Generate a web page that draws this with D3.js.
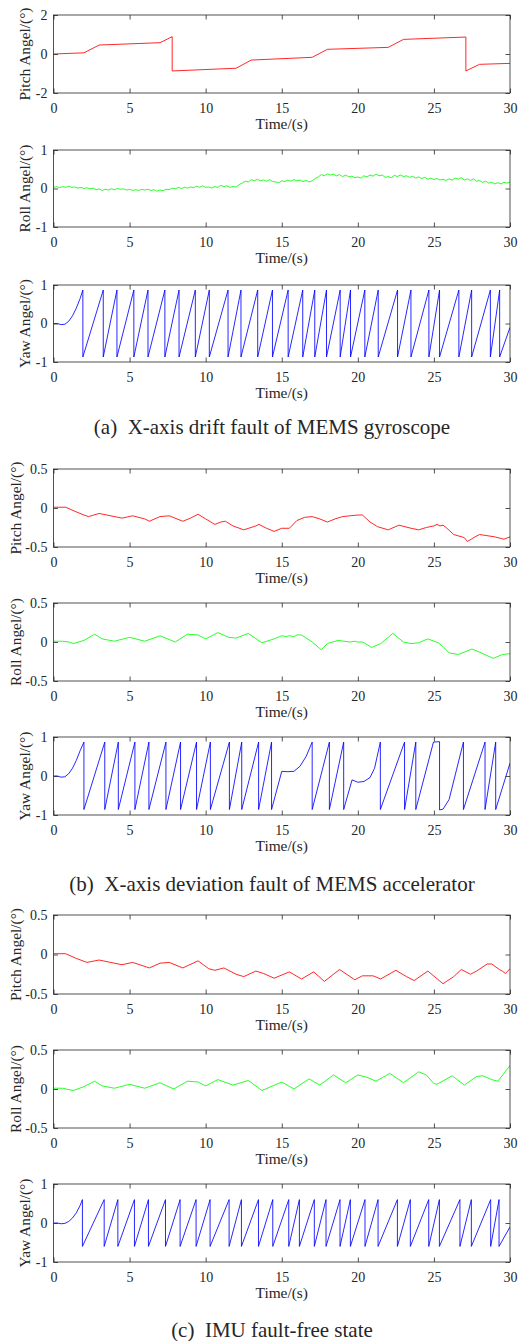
<!DOCTYPE html>
<html><head><meta charset="utf-8">
<script src="https://cdn.jsdelivr.net/npm/d3@7"></script>
<style>
body{margin:0;background:#fff}
svg{display:block}
text{font-family:"Liberation Serif","Times New Roman",serif;fill:#262626}
</style>
</head><body>
<svg id="chart" width="529" height="1341"></svg>
<script>
// ---------------- DATA ----------------
const timeTicks = [0, 5, 10, 15, 20, 25, 30];
const yTicksPitchA = [-2, 0, 2];
const yTicksUnit = [-1, 0, 1];
const yTicksHalf = [-0.5, 0, 0.5];

const captions = [
  "(a)  X-axis drift fault of MEMS gyroscope",
  "(b)  X-axis deviation fault of MEMS accelerator",
  "(c)  IMU fault-free state"
];
const yLabels = ["Pitch Angel/(°)", "Roll Angel/(°)", "Yaw Angel/(°)"];

// (a) pitch [time, value]
const pitchA = [[0,0],[2,0.06],[3,0.46],[7,0.58],[7.8,0.89],[7.8,-0.87],[12,-0.73],[13,-0.31],[17,-0.17],[18,0.24],[22,0.34],[23,0.75],[27.1,0.87],[27.1,-0.87],[28,-0.53],[30,-0.48]];

// (a) roll, sampled every 0.2 s
const rollAStep = 0.2;
const rollAValues = [
 0.03,0.05,0.02,0.05,0.03,0.06,0.03,0.04,0.01,0.03,
 0.00,0.02,-0.01,0.01,-0.03,-0.01,-0.05,-0.02,-0.04,-0.01,
 -0.03,0.00,-0.02,-0.01,-0.04,-0.02,-0.05,-0.03,-0.05,-0.02,
 -0.04,-0.02,-0.05,-0.03,-0.07,-0.04,-0.06,-0.02,-0.03,0.01,
 -0.01,0.03,0.00,0.03,0.01,0.04,0.02,0.06,0.03,0.07,
 0.03,0.04,0.01,0.05,0.03,0.08,0.05,0.07,0.03,0.05,
 0.04,0.10,0.14,0.19,0.17,0.23,0.20,0.24,0.20,0.22,
 0.19,0.23,0.18,0.17,0.15,0.20,0.18,0.22,0.19,0.23,
 0.20,0.22,0.18,0.21,0.17,0.20,0.26,0.30,0.36,0.33,
 0.38,0.35,0.37,0.33,0.36,0.31,0.35,0.30,0.32,0.28,
 0.30,0.27,0.33,0.30,0.35,0.32,0.37,0.33,0.35,0.29,
 0.31,0.28,0.34,0.31,0.35,0.31,0.33,0.29,0.32,0.27,
 0.30,0.26,0.29,0.24,0.27,0.23,0.26,0.22,0.24,0.21,
 0.25,0.22,0.27,0.24,0.28,0.22,0.25,0.21,0.25,0.19,
 0.21,0.16,0.19,0.14,0.16,0.12,0.15,0.12,0.16,0.14,
 0.17
];

// (a) yaw: start-up curve, wrap times, wrap peak / trough, end value
const yawAStart = [[0,0],[0.25,0],[0.5,-0.03],[0.75,-0.02],[1.0,0.06],[1.25,0.2],[1.5,0.4],[1.75,0.65]];
const yawAWraps = [1.93,3.27,4.17,5.28,6.21,7.32,8.25,9.32,10.24,11.47,12.32,13.42,14.39,15.42,16.38,17.17,17.94,18.84,19.52,20.46,21.34,22.61,23.49,24.67,25.37,26.64,27.48,28.71,29.32];
const yawAPeak = 0.87, yawATrough = -0.87;
const yawAEnd = [30,-0.1];

// (b) pitch
const pitchB = [[0,0.01],[0.8,0.01],[1.5,-0.05],[2,-0.09],[2.3,-0.11],[3,-0.07],[3.5,-0.09],[4.5,-0.13],[5.2,-0.10],[6,-0.14],[6.3,-0.17],[7,-0.11],[7.6,-0.10],[8.5,-0.17],[9,-0.13],[9.5,-0.08],[10,-0.14],[10.6,-0.21],[11,-0.18],[11.3,-0.17],[11.8,-0.23],[12.5,-0.28],[13.3,-0.23],[13.5,-0.21],[14,-0.26],[14.5,-0.30],[15,-0.26],[15.5,-0.26],[16,-0.16],[16.5,-0.12],[17,-0.11],[17.5,-0.14],[18,-0.18],[18.5,-0.14],[19,-0.11],[19.5,-0.10],[20,-0.09],[20.3,-0.09],[20.8,-0.18],[21.3,-0.24],[22,-0.28],[22.7,-0.22],[23.5,-0.26],[24,-0.28],[24.5,-0.25],[25,-0.23],[25.2,-0.21],[25.4,-0.23],[25.6,-0.22],[25.8,-0.25],[26.3,-0.34],[27,-0.38],[27.2,-0.43],[27.7,-0.37],[28,-0.34],[29,-0.37],[29.6,-0.40],[30,-0.37]];

// (b) roll
const rollB = [[0,0.01],[0.6,0.01],[1,0],[1.3,-0.02],[2,0.02],[2.7,0.10],[3.2,0.04],[4,0.01],[5,0.06],[6,0.01],[7,0.08],[8,0],[8.8,0.10],[9.5,0.09],[10,0.04],[10.8,0.12],[11.5,0.06],[12,0.05],[12.8,0.11],[13.7,-0.01],[14.5,0.04],[15,0.08],[15.3,0.07],[15.5,0.08],[15.8,0.07],[16,0.09],[16.3,0.09],[17,0],[17.6,-0.10],[18,-0.02],[18.7,0.02],[19.5,0],[19.8,0.01],[20,0],[20.3,0.0],[20.5,-0.02],[20.9,-0.07],[21.5,-0.02],[22.3,0.11],[23,0],[23.5,-0.02],[24,-0.01],[24.6,0.04],[25.3,-0.01],[25.6,-0.06],[26,-0.14],[26.6,-0.16],[27,-0.13],[27.5,-0.09],[28,-0.13],[28.9,-0.21],[29.5,-0.16],[30,-0.15]];

// (b) yaw
const yawB = [[0,0],[0.25,0],[0.5,-0.03],[0.75,-0.02],[1,0.06],[1.25,0.2],[1.5,0.4],[1.75,0.65],[2.0,0.87],[2.0,-0.86],[3.37,0.87],[3.37,-0.86],[4.26,0.87],[4.26,-0.86],[5.35,0.87],[5.35,-0.86],[6.27,0.87],[6.27,-0.86],[7.39,0.87],[7.39,-0.86],[8.35,0.87],[8.35,-0.86],[9.40,0.87],[9.40,-0.86],[10.31,0.87],[10.31,-0.86],[11.56,0.87],[11.56,-0.86],[12.37,0.87],[12.37,-0.86],[13.48,0.87],[13.48,-0.86],[14.33,0.87],[14.33,-0.86],[15.0,0.12],[15.4,0.11],[15.8,0.12],[16.2,0.25],[16.6,0.5],[17.0,0.87],[17.0,-0.86],[18.13,0.87],[18.13,-0.86],[19.07,0.87],[19.07,-0.86],[19.62,-0.1],[20.0,-0.16],[20.4,-0.14],[20.8,-0.04],[21.1,0.2],[21.48,0.87],[21.48,-0.86],[23.07,0.87],[23.07,-0.86],[23.81,0.87],[23.81,-0.86],[24.97,0.87],[25.37,0.88],[25.37,-0.87],[25.6,-0.85],[26.0,-0.6],[26.94,0.87],[26.94,-0.86],[28.36,0.87],[28.36,-0.86],[29.06,0.87],[29.06,-0.86],[30,0.33]];

// (c) pitch
const pitchC = [[0,0.01],[0.8,0.01],[1.5,-0.05],[2.2,-0.10],[3,-0.07],[4.5,-0.13],[5.2,-0.10],[6.3,-0.17],[7,-0.11],[7.6,-0.10],[8.5,-0.17],[9.5,-0.08],[10.2,-0.18],[10.6,-0.20],[11.2,-0.17],[12,-0.25],[12.5,-0.28],[13.3,-0.21],[13.8,-0.24],[14.5,-0.30],[15.5,-0.22],[16.3,-0.31],[17.1,-0.22],[17.8,-0.34],[18.8,-0.19],[19.8,-0.32],[20.3,-0.27],[21,-0.27],[21.5,-0.31],[22.5,-0.20],[23.2,-0.28],[23.7,-0.33],[24.6,-0.21],[25.6,-0.37],[26.3,-0.28],[26.8,-0.19],[27.4,-0.25],[27.8,-0.21],[28.5,-0.12],[28.8,-0.12],[29.3,-0.19],[29.5,-0.21],[29.7,-0.24],[30,-0.18]];

// (c) roll
const rollC = [[0,0.01],[0.6,0.01],[1.3,-0.02],[2,0.03],[2.7,0.10],[3.2,0.04],[4,0.01],[5,0.06],[6,0.01],[7,0.08],[7.9,0],[8.8,0.10],[9.5,0.09],[10,0.04],[10.8,0.12],[11.8,0.05],[12.8,0.11],[13.7,-0.02],[15,0.09],[15.8,0],[16.8,0.13],[17.5,0.05],[18.4,0.18],[19.2,0.08],[20,0.18],[20.6,0.15],[21.2,0.10],[22.1,0.20],[23,0.08],[24,0.22],[24.5,0.18],[25,0.07],[25.2,0.06],[26.2,0.17],[27,0.05],[27.8,0.16],[28.2,0.17],[28.8,0.12],[29.2,0.10],[29.6,0.20],[30,0.30]];

// (c) yaw
const yawCStart = [[0,0],[0.25,0],[0.5,-0.02],[0.75,-0.01],[1.0,0.04],[1.25,0.13],[1.5,0.26],[1.75,0.45]];
const yawCWraps = [1.90,3.33,4.23,5.32,6.24,7.36,8.32,9.37,10.29,11.54,12.35,13.47,14.41,15.46,16.16,17.14,17.91,18.83,19.51,20.47,21.33,22.60,23.45,24.66,25.36,26.71,27.46,28.73,29.28];
const yawCPeak = 0.6, yawCTrough = -0.6;
const yawCEnd = [30,-0.1];

// ---------------- BUILD SERIES ----------------
const rollA = rollAValues.map((v, i) => [i * rollAStep, v]);
function wrapSeries(start, wraps, peak, trough, end) {
  const pts = start.slice();
  wraps.forEach(t => { pts.push([t, peak]); pts.push([t, trough]); });
  pts.push(end);
  return pts;
}
const yawA = wrapSeries(yawAStart, yawAWraps, yawAPeak, yawATrough, yawAEnd);
const yawC = wrapSeries(yawCStart, yawCWraps, yawCPeak, yawCTrough, yawCEnd);

// ---------------- LAYOUT ----------------
const X0 = 53.5, X1 = 510;
const RED = "#ff0000", GREEN = "#00ff00", BLUE = "#0000ff";
const AX = "#262626";
const panels = [
  {top:15,   bottom:93,   ticks:yTicksPitchA, label:yLabels[0], color:RED,   data:pitchA, lx:24.5},
  {top:150,  bottom:227,  ticks:yTicksUnit,   label:yLabels[1], color:GREEN, data:rollA,  lx:24.5},
  {top:285,  bottom:362,  ticks:yTicksUnit,   label:yLabels[2], color:BLUE,  data:yawA,   lx:24.5},
  {top:469,  bottom:547,  ticks:yTicksHalf,   label:yLabels[0], color:RED,   data:pitchB, lx:15.5},
  {top:603,  bottom:681,  ticks:yTicksHalf,   label:yLabels[1], color:GREEN, data:rollB,  lx:15.5},
  {top:737,  bottom:815,  ticks:yTicksUnit,   label:yLabels[2], color:BLUE,  data:yawB,   lx:24.5},
  {top:915,  bottom:994,  ticks:yTicksHalf,   label:yLabels[0], color:RED,   data:pitchC, lx:15.5},
  {top:1050, bottom:1128, ticks:yTicksHalf,   label:yLabels[1], color:GREEN, data:rollC,  lx:15.5},
  {top:1184, bottom:1262, ticks:yTicksUnit,   label:yLabels[2], color:BLUE,  data:yawC,   lx:24.5}
];
const captionY = [434, 891, 1337];

const svg = d3.select("#chart");
const x = d3.scaleLinear().domain([0, 30]).range([X0, X1]);
const TICK = 4.5;

function styleAxis(g) {
  g.select(".domain").remove();
  g.attr("font-family", null).attr("font-size", null);
  g.selectAll(".tick line").attr("stroke", AX).attr("stroke-width", 0.8);
  g.selectAll(".tick text").attr("fill", AX).style("font-size", "14px");
}

panels.forEach((p, i) => {
  const y = d3.scaleLinear().domain([p.ticks[0], p.ticks[p.ticks.length - 1]]).range([p.bottom, p.top]);
  const g = svg.append("g");
  const clipId = "clip" + i;
  g.append("clipPath").attr("id", clipId).append("rect")
    .attr("x", X0).attr("y", p.top - 1).attr("width", X1 - X0).attr("height", p.bottom - p.top + 2);

  const line = d3.line().x(d => x(d[0])).y(d => y(d[1]));
  g.append("path").datum(p.data)
    .attr("clip-path", `url(#${clipId})`)
    .attr("d", line).attr("fill", "none")
    .attr("stroke", p.color).attr("stroke-width", 0.85)
    .attr("stroke-linejoin", "round");

  g.append("rect").attr("x", X0).attr("y", p.top)
    .attr("width", X1 - X0).attr("height", p.bottom - p.top)
    .attr("fill", "none").attr("stroke", AX).attr("stroke-width", 0.8);

  g.append("g").attr("transform", `translate(0,${p.bottom})`)
    .call(d3.axisBottom(x).tickValues(timeTicks).tickSize(-TICK).tickPadding(9.6).tickFormat(d => String(d)))
    .call(styleAxis);
  g.append("g").attr("transform", `translate(0,${p.top})`)
    .call(d3.axisTop(x).tickValues(timeTicks).tickSize(-TICK).tickFormat(""))
    .call(styleAxis);
  g.append("g").attr("transform", `translate(${X0},0)`)
    .call(d3.axisLeft(y).tickValues(p.ticks).tickSize(-TICK).tickPadding(6).tickFormat(d => String(d)))
    .call(styleAxis);
  g.append("g").attr("transform", `translate(${X1},0)`)
    .call(d3.axisRight(y).tickValues(p.ticks).tickSize(-TICK).tickFormat(""))
    .call(styleAxis);

  g.append("text").attr("x", (X0 + X1) / 2).attr("y", p.bottom + 36)
    .attr("text-anchor", "middle").style("font-size", "15.4px").text("Time/(s)");
  g.append("text")
    .attr("transform", `translate(${p.lx},${(p.top + p.bottom) / 2}) rotate(-90)`)
    .attr("text-anchor", "middle").attr("dominant-baseline", "central")
    .style("font-size", "15.4px").text(p.label);
});

captions.forEach((c, i) => {
  svg.append("text").attr("x", 272).attr("y", captionY[i])
    .attr("text-anchor", "middle").style("font-size", "21px")
    .style("white-space", "pre").text(c);
});
</script>
</body></html>
